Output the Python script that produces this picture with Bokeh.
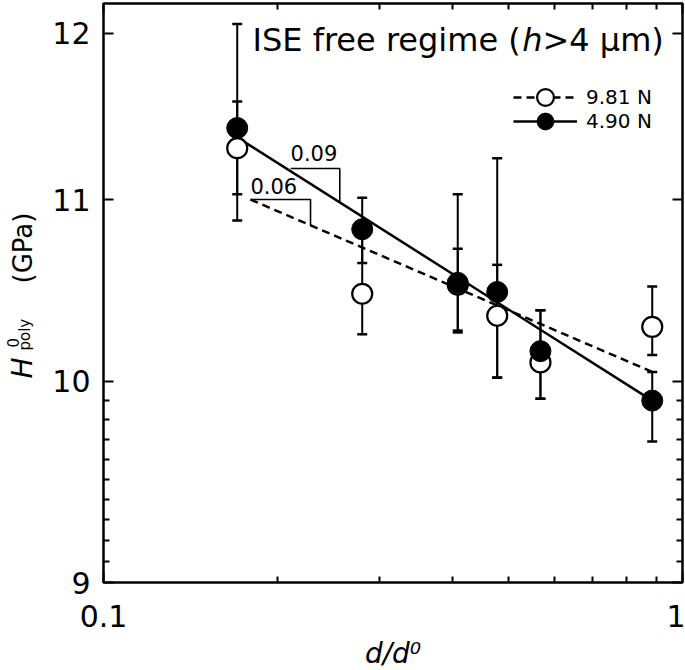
import math
from bokeh.plotting import figure
from bokeh.layouts import row
from bokeh.models import FixedTicker, LogAxis, Label, Legend, LegendItem, Range1d
from bokeh.embed import file_html
from bokeh.resources import INLINE

# ---------------- data ----------------
d_ratio = [0.1702, 0.2798, 0.4091, 0.4786, 0.5684, 0.8866]

H_490 = [11.42, 10.83, 10.53, 10.48, 10.16, 9.90]
H_490_hi = [12.06, 11.01, 11.03, 11.24, 10.38, 10.05]
H_490_lo = [10.88, 10.64, 10.27, 10.02, 9.91, 9.69]

H_981 = [11.30, 10.47, 10.52, 10.35, 10.10, 10.29]
H_981_hi = [11.58, 10.80, 10.72, 10.63, 10.38, 10.51]
H_981_lo = [11.03, 10.25, 10.26, 10.02, 9.91, 10.14]

fit_490_x = [0.171, 0.8866]
fit_490_y = [11.36, 9.90]
fit_981_x = [0.1794, 0.8866]
fit_981_y = [11.00, 10.05]

slope_490_x = [0.2104, 0.2559, 0.2559]
slope_490_y = [11.18, 11.18, 10.99]
slope_490_text = "0.09"
slope_981_x = [0.1794, 0.2278, 0.2278]
slope_981_y = [11.00, 11.00, 10.85]
slope_981_text = "0.06"

series_labels = ["9.81 N", "4.90 N"]

x_ticks = [0.1, 1]
x_tick_labels = ["0.1", "1"]
x_minor = [0.2, 0.3, 0.4, 0.5, 0.6, 0.7, 0.8, 0.9]
y_ticks = [9, 10, 11, 12]
y_tick_labels = ["9", "10", "11", "12"]
y_minor = [9.1, 9.2, 9.3, 9.4, 9.5, 9.6, 9.7, 9.8, 9.9]

FONT = "DejaVu Sans"
BL = 0.41  # measured shift of the alphabetic baseline (in em)

# ---------------- main figure ----------------
p = figure(frame_width=579, frame_height=579,
           x_axis_type="log", y_axis_type="log",
           x_range=Range1d(0.1, 1), y_range=Range1d(9, 12.19),
           output_backend="svg", toolbar_location=None,
           min_border_left=55, min_border_right=3,
           min_border_top=3, min_border_bottom=88)
p.background_fill_color = "white"
p.border_fill_color = "white"
p.grid.visible = False
p.outline_line_color = "black"
p.outline_line_width = 2.5

xt = FixedTicker(ticks=x_ticks, minor_ticks=x_minor)
yt = FixedTicker(ticks=y_ticks, minor_ticks=y_minor)

def style_axis(ax, show_labels, standoff=13):
    ax.axis_line_color = None
    ax.major_tick_in = 10
    ax.major_tick_out = 0
    ax.minor_tick_in = 6
    ax.minor_tick_out = 0
    ax.major_tick_line_width = 2
    ax.minor_tick_line_width = 2
    ax.major_tick_line_color = "black"
    ax.minor_tick_line_color = "black"
    if show_labels:
        ax.major_label_text_font = FONT
        ax.major_label_text_font_size = "30px"
        ax.major_label_text_color = "black"
        ax.major_label_standoff = standoff
    else:
        ax.major_label_text_font_size = "1px"
        ax.major_label_standoff = 0

p.xaxis.ticker = xt
p.yaxis.ticker = yt
p.xaxis.major_label_overrides = dict(zip(x_ticks, x_tick_labels))
p.yaxis.major_label_overrides = dict(zip(y_ticks, y_tick_labels))
style_axis(p.xaxis[0], True, 22)
style_axis(p.yaxis[0], True, 13)

p.xaxis.axis_label = "d/d\u2070"
p.xaxis.axis_label_text_font = FONT
p.xaxis.axis_label_text_font_size = "28px"
p.xaxis.axis_label_text_font_style = "italic"
p.xaxis.axis_label_text_color = "black"
p.xaxis.axis_label_standoff = 7

ax_top = LogAxis(ticker=xt, major_label_overrides={t: "" for t in x_ticks})
ax_right = LogAxis(ticker=yt, major_label_overrides={t: "" for t in y_ticks})
style_axis(ax_top, False)
style_axis(ax_right, False)
p.add_layout(ax_top, "above")
p.add_layout(ax_right, "right")

# ---------------- error bars ----------------
for lo, hi in ((H_981_lo, H_981_hi), (H_490_lo, H_490_hi)):
    p.segment(x0=d_ratio, y0=lo, x1=d_ratio, y1=hi, line_color="black", line_width=2)
    p.scatter(x=d_ratio, y=lo, marker="dash", size=10, line_color="black", line_width=2.5)
    p.scatter(x=d_ratio, y=hi, marker="dash", size=10, line_color="black", line_width=2.5)

# ---------------- fit lines & slope triangles ----------------
l981 = p.line(fit_981_x, fit_981_y, line_color="black", line_width=2.5, line_dash="8 5")
l490 = p.line(fit_490_x, fit_490_y, line_color="black", line_width=2.5)
p.line(slope_490_x, slope_490_y, line_color="black", line_width=1.6)
p.line(slope_981_x, slope_981_y, line_color="black", line_width=1.6)
p.add_layout(Label(x=slope_490_x[0], y=slope_490_y[0], y_offset=7 + BL * 21,
                   text=slope_490_text, text_font=FONT, text_font_size="21px",
                   text_color="black", text_baseline="alphabetic"))
p.add_layout(Label(x=slope_981_x[0], y=slope_981_y[0], y_offset=5 + BL * 21,
                   text=slope_981_text, text_font=FONT, text_font_size="21px",
                   text_color="black", text_baseline="alphabetic"))

# ---------------- markers ----------------
s981 = p.scatter(d_ratio, H_981, marker="circle", size=20, fill_color="white",
                 line_color="black", line_width=2.2)
s490 = p.scatter(d_ratio, H_490, marker="circle", size=21, fill_color="black",
                 line_color="black", line_width=1)

# ---------------- legend (one box per row) ----------------
for item, loc in ((LegendItem(label=series_labels[0], renderers=[l981, s981]), (410, 464)),
                  (LegendItem(label=series_labels[1], renderers=[l490, s490]), (410, 440))):
    p.add_layout(Legend(items=[item], location=loc, glyph_width=64, glyph_height=42,
                        label_height=42, spacing=0, padding=0, margin=0, label_standoff=9,
                        label_text_font=FONT, label_text_font_size="20px",
                        label_text_color="black",
                        border_line_color=None, background_fill_alpha=0))

# ---------------- title inside the frame (screen units from frame bottom-left) ----------------
def lab(fig, text, x, y, size, style="normal", angle=0.0):
    fig.add_layout(Label(x=x, y=y + BL * size, x_units="screen", y_units="screen",
                         text=text, text_font=FONT, text_font_size=f"{size}px",
                         text_font_style=style, text_color="black",
                         text_baseline="alphabetic", text_align="left", angle=angle))

TS = 32
lab(p, "ISE free regime (", 149, 582 - 53, TS)
lab(p, "h", 149 + 8.427 * TS, 582 - 53, TS, "italic")
lab(p, ">4 \u03bcm)", 149 + 9.061 * TS, 582 - 53, TS)

# ---------------- y-axis title: its own narrow canvas on the left ----------------
# (its frame is aligned with the main frame: page y 3 .. 582)
yl = figure(width=48, height=670, output_backend="svg", toolbar_location=None,
            x_axis_location=None, y_axis_location=None,
            min_border_left=0, min_border_right=0, min_border_top=0, min_border_bottom=0,
            x_range=Range1d(0, 1), y_range=Range1d(0, 1))
yl.outline_line_color = None
yl.grid.visible = False
yl.background_fill_color = "white"
yl.border_fill_color = "white"

FRAME_BOTTOM = 582

def vlab(text, base_x, start_y, size, style="normal"):
    # rotated text reading upwards; base_x = page x of the baseline, start_y = page y of its start
    yl.add_layout(Label(x=base_x - BL * size, y=FRAME_BOTTOM - start_y,
                        x_units="screen", y_units="screen",
                        text=text, text_font=FONT, text_font_size=f"{size}px",
                        text_font_style=style, text_color="black",
                        text_baseline="alphabetic", text_align="left", angle=math.pi / 2))

vlab("H", 33, 380, 28, "italic")
vlab("0", 19, 349, 15)
vlab("poly", 31, 352, 15)
vlab("(GPa)", 33, 285, 26)

layout = row(yl, p)
open("out.html", "w").write(file_html(layout, INLINE))
